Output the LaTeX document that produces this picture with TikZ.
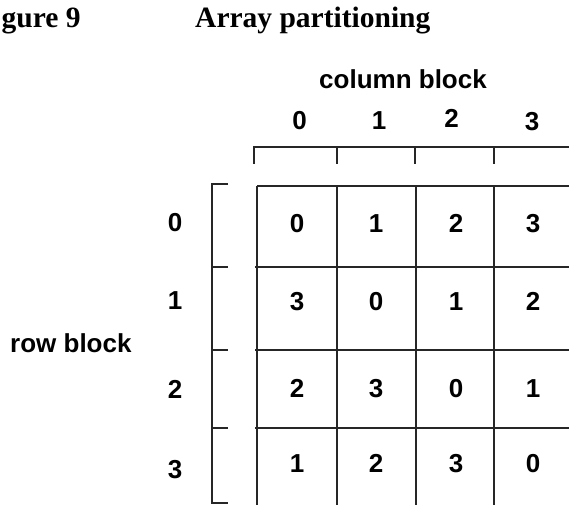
\documentclass[tikz,border=0pt]{standalone}
\usepackage{fontspec}
\setmainfont{Liberation Serif}
\setsansfont{Liberation Sans}
\begin{document}
\begin{tikzpicture}[x=1pt,y=-1pt,
  lbl/.style={font=\sffamily\bfseries\fontsize{26}{31}\selectfont, anchor=base, inner sep=0pt},
  ttl/.style={font=\rmfamily\bfseries\fontsize{29.5}{34}\selectfont, inner sep=0pt},
  gline/.style={line width=1.3pt, draw=black!85}]
\useasboundingbox (0,0) rectangle (569,504);
\clip (0,0) rectangle (569,504);
% titles
\node[ttl, anchor=base west] (fig) at (1.5,27) {gure 9};
\node[ttl, anchor=base west] (title) at (195,27) {Array partitioning};
% labels
\node[lbl] (colblock) at (403,88) {column block};
\node[lbl, anchor=base west] (rowblock) at (10,352) {row block};
\foreach \i/\x/\y in {0/299.5/129,1/379/129,2/451.5/127,3/532/130}
  \node[lbl] (col\i) at (\x,\y) {\i};
\foreach \i/\y in {0/231,1/309,2/398,3/478}
  \node[lbl] (row\i) at (175,\y) {\i};
% cells
\foreach \r/\y in {0/232,1/310,2/397,3/472}
  \foreach \c/\x in {0/297,1/376,2/456,3/533}{
    \pgfmathtruncatemacro{\v}{mod(\c-\r+4,4)}
    \node[lbl] (cell\r\c) at (\x,\y) {\v};
  }
% column bracket
\draw[gline] (254,164) -- (254,147) -- (600,147);
\foreach \x in {337,415,494} \draw[gline] (\x,147) -- (\x,164);
% row bracket
\draw[gline] (228,184) -- (212,184) -- (212,503) -- (228,503);
\foreach \y in {267,350,428} \draw[gline] (212,\y) -- (228,\y);
% grid
\foreach \x in {257,337,416,494} \draw[gline] (\x,186) -- (\x,520);
\draw[gline] (257,186) -- (600,186);
\foreach \y in {267,350,428} \draw[gline] (255,\y) -- (600,\y);
\end{tikzpicture}
\end{document}
